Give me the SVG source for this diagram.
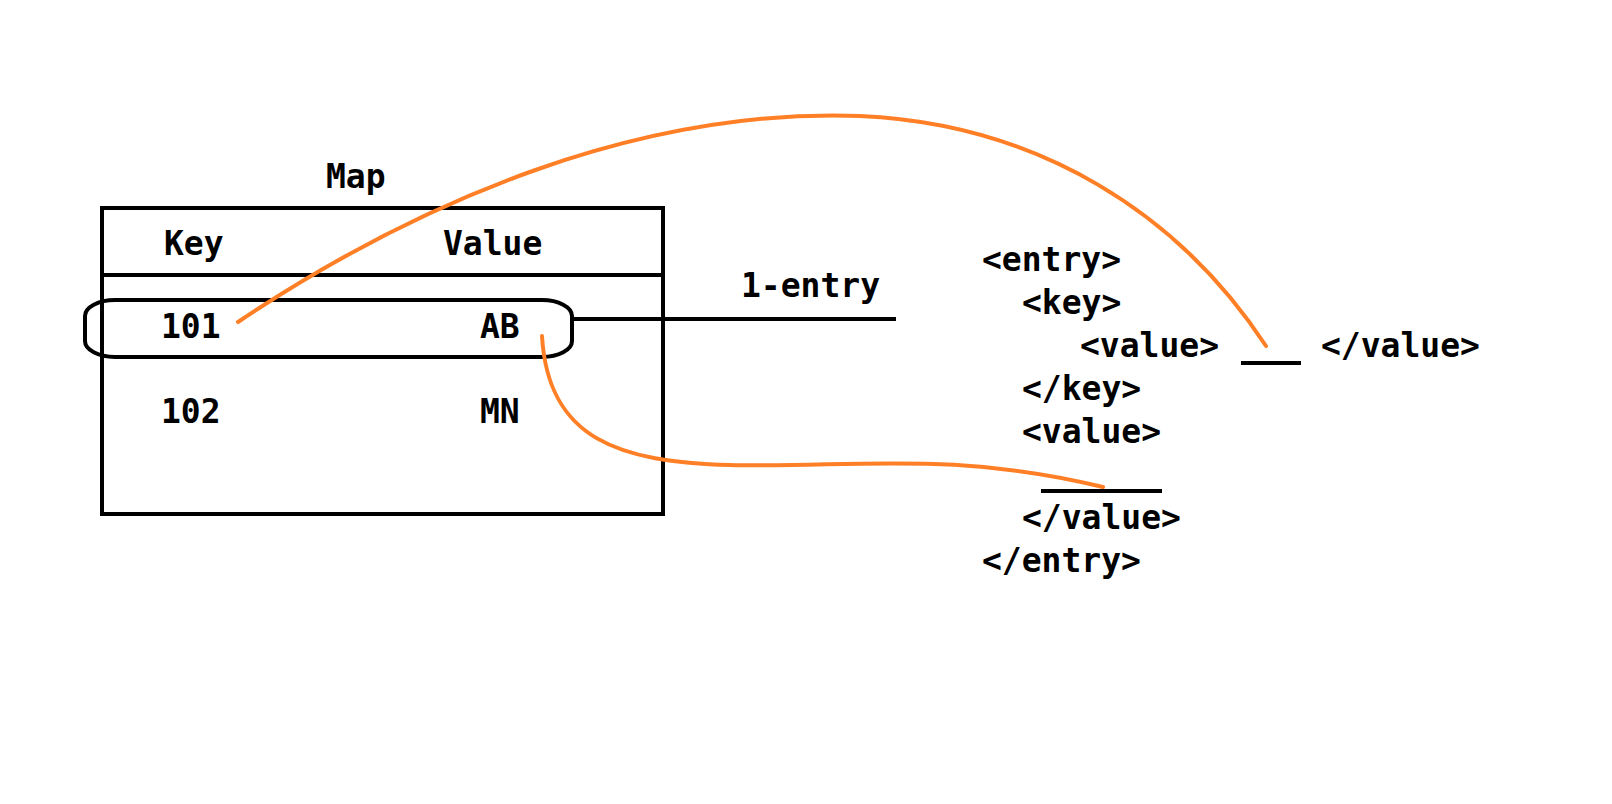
<svg xmlns="http://www.w3.org/2000/svg" width="1612" height="804" viewBox="0 0 1612 804">
<style>
.t{font-family:"DejaVu Sans Mono","Liberation Mono",monospace;font-weight:bold;font-size:33px;fill:#000}
.k{fill:none;stroke:#000;stroke-width:4}
.o{fill:none;stroke:#FF7F27;stroke-width:4;stroke-linecap:round}
</style>
<rect width="1612" height="804" fill="#fff"/>
<g id="map">
<text class="t" x="326" y="188">Map</text>
<rect class="k" x="102" y="208" width="561" height="306"/>
<line class="k" x1="102" y1="275" x2="663" y2="275"/>
<text class="t" x="164" y="255">Key</text>
<text class="t" x="443" y="255">Value</text>
<text class="t" x="161" y="338">101</text>
<text class="t" x="480" y="338">AB</text>
<text class="t" x="161" y="423">102</text>
<text class="t" x="480" y="423">MN</text>
</g>
<g id="entry-highlight">
<rect class="k" x="85" y="300" width="487" height="57" rx="30" ry="16"/>
</g>
<g id="entry-label">
<text class="t" x="741" y="297">1-entry</text>
</g>
<g id="xml">
<text class="t" x="982" y="271">&lt;entry&gt;</text>
<text class="t" x="1022" y="314">&lt;key&gt;</text>
<text class="t" x="1080" y="357">&lt;value&gt;</text>
<line class="k" x1="1241" y1="363" x2="1301" y2="363"/>
<text class="t" x="1321" y="357">&lt;/value&gt;</text>
<text class="t" x="1022" y="400">&lt;/key&gt;</text>
<text class="t" x="1022" y="443">&lt;value&gt;</text>
<line class="k" x1="1041" y1="491" x2="1162" y2="491"/>
<text class="t" x="1022" y="529">&lt;/value&gt;</text>
<text class="t" x="982" y="572">&lt;/entry&gt;</text>
</g>
<g id="connectors">
<line class="k" x1="572" y1="319" x2="896" y2="319"/>
<path class="o" d="M238,322 C420,200 640,108 860,116 C1040,124 1180,215 1266,346"/>
<path class="o" d="M542,336 C548,440 620,462 730,465 C850,468 950,450 1103,487"/>
</g>
</svg>
